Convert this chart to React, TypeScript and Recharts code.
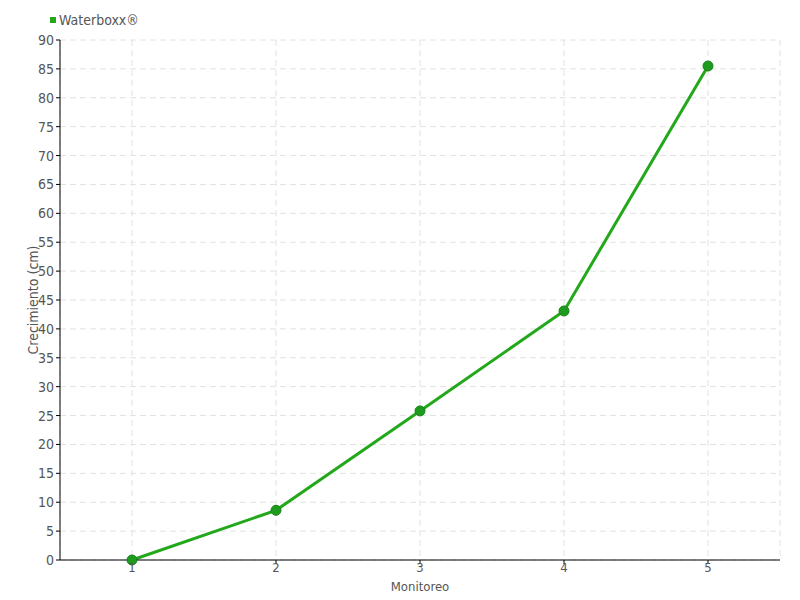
import React from "react"
import { CartesianGrid, Line, LineChart, XAxis, YAxis } from "recharts"

const monitoreos = ["1", "2", "3", "4", "5"]
const waterboxx = [0, 8.6, 25.8, 43.1, 85.5]
const yTicks = [0, 5, 10, 15, 20, 25, 30, 35, 40, 45, 50, 55, 60, 65, 70, 75, 80, 85, 90]

const FONT = "'DejaVu Sans Condensed', 'Liberation Sans Narrow', sans-serif"
const TEXT = "#555"

const data = monitoreos.map((m, i) => ({ name: m, waterboxx: waterboxx[i] }))

const YLabel = () => (
  <text
    x={33}
    y={300}
    transform="rotate(-90 33 300)"
    textAnchor="middle"
    dominantBaseline="central"
    fontFamily={FONT}
    fontSize={14}
    fill={TEXT}
  >
    Crecimiento (cm)
  </text>
)

export default function App() {
  return (
    <div style={{ position: "absolute", left: 0, top: 0, width: 800, height: 600, background: "#fff" }}>
      <div
        style={{
          position: "absolute",
          left: 50,
          top: 12,
          display: "flex",
          alignItems: "center",
          fontFamily: FONT,
          fontSize: 14,
          color: TEXT,
          zIndex: 2,
        }}
      >
        <span
          style={{
            display: "inline-block",
            width: 6,
            height: 6,
            background: "#22a81a",
            marginRight: 3,
          }}
        />
        Waterboxx®
      </div>
      <LineChart
        width={800}
        height={600}
        data={data}
        margin={{ top: 40, right: 20, left: 0, bottom: 10 }}
      >
        <CartesianGrid stroke="#e2e2e2" strokeDasharray="6 4" />
        <XAxis
          dataKey="name"
          padding={{ left: 72, right: 72 }}
          height={30}
          stroke="#000"
          tickSize={4}
          tickMargin={-1}
          tick={{ fill: TEXT, fontFamily: FONT, fontSize: 13 }}
          label={{
            value: "Monitoreo",
            position: "insideBottom",
            offset: -1,
            fill: TEXT,
            fontFamily: FONT,
            fontSize: 13,
          }}
        />
        <YAxis
          width={60}
          domain={[0, 90]}
          ticks={yTicks}
          interval={0}
          stroke="#000"
          tickSize={4}
          tick={{ fill: TEXT, fontFamily: FONT, fontSize: 14 }}
          label={<YLabel />}
        />
        <Line
          type="linear"
          dataKey="waterboxx"
          stroke="#22a81a"
          strokeWidth={3}
          dot={{ r: 5, fill: "#1e9a1e", stroke: "#188418", strokeWidth: 1 }}
          isAnimationActive={false}
        />
      </LineChart>
    </div>
  )
}
